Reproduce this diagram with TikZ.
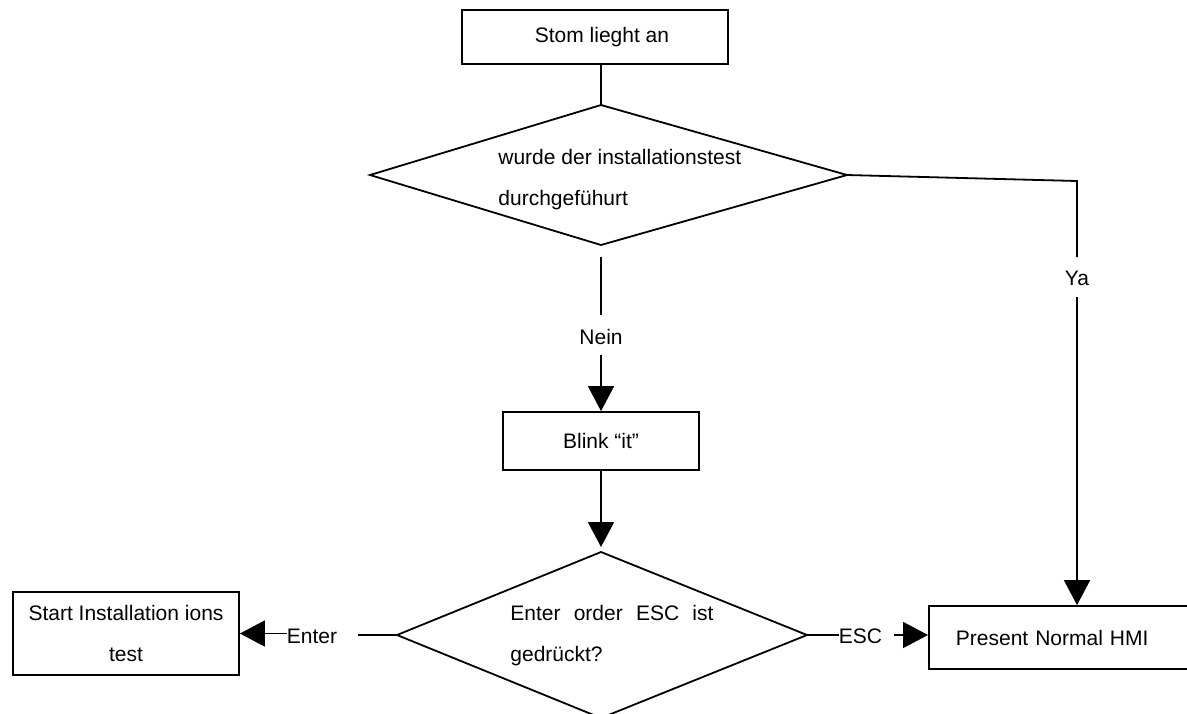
\documentclass[tikz,border=0pt]{standalone}
\usepackage{fontspec}
\setmainfont{Liberation Sans}
\usetikzlibrary{arrows.meta,calc}
\begin{document}
\begin{tikzpicture}[x=0.5pt,y=-0.5pt,
  every node/.style={font=\fontsize{10.5}{20.5}\selectfont},
  box/.style={draw, line width=0.9pt, inner sep=0pt},
  ln/.style={line width=0.9pt},
  arr/.style={line width=0.9pt, -{Triangle[length=12.5pt,width=13pt]}},
  lbl/.style={inner sep=0pt}]
\useasboundingbox (0,0) rectangle (1187,713);
\fill[white] (0,0) rectangle (1187,713);

% top box
\node[box, minimum width=133pt, minimum height=27pt] (stom) at (595,37) {\hspace*{7pt}Stom lieght an};

% first decision
\coordinate (d1n) at (601,105);
\coordinate (d1e) at (847,175);
\coordinate (d1s) at (601,245);
\coordinate (d1w) at (370,175);
\draw[ln] (d1n) -- (d1e) -- (d1s) -- (d1w) -- cycle;
\node[lbl, anchor=west, align=left] (q1) at (498,180) {wurde der installationstest\\durchgefühurt};
\draw[ln] (stom.south -| d1n) -- (d1n);

% blink box
\node[box, minimum width=98pt, minimum height=29pt] (blink) at (601,441) {Blink “it”};

% Nein connector
\coordinate (n1) at (601,257);
\coordinate (n2) at (601,315);
\node[lbl] (nein) at (601,337) {Nein};
\coordinate (n3) at (601,355);
\draw[ln] (n1) -- (n2);
\draw[arr] (n3) -- (blink.north);

% second decision
\coordinate (d2n) at (601,552);
\coordinate (d2e) at (807,635);
\coordinate (d2s) at (601,718);
\coordinate (d2w) at (397,635);
\draw[ln] (d2n) -- (d2e) -- (d2s) -- (d2w) -- cycle;
\node[lbl, anchor=west, align=left] (q2) at (510,636) {\makebox[101.5pt][s]{Enter order ESC ist}\\gedrückt?};
\draw[arr, shorten >=2.5pt] (blink.south) -- (d2n);

% start installation box
\node[box, minimum width=113pt, minimum height=41.5pt, align=center] (start) at (126,633.5) {Start Installation ions\\test};

% present normal HMI box
\node[box, anchor=west, inner xsep=13.5pt, inner ysep=0pt, text width=118pt, align=left, minimum height=31.5pt] (hmi) at (928,637.5) {\raisebox{-2pt}{Present Normal HMI}};

% Enter connector
\coordinate (e1) at (358,635);
\draw[ln] (d2w) -- (e1);
\node[lbl] (enter) at (312,636) {Enter};
\draw[arr] (enter.west |- start.east) -- (start.east);

% ESC connector
\node[lbl] (esc) at (860.5,636) {ESC};
\draw[ln] (d2e) -- (esc.west |- d2e);
\coordinate (e2) at (894,635);
\draw[arr] (e2) -- (e2 -| hmi.west);

% Ya connector
\coordinate (y1) at (1077,181);
\coordinate (y2) at (1077,257);
\node[lbl] (ya) at (1077,278) {Ya};
\coordinate (y3) at (1077,297);
\draw[ln] (d1e) -- (y1) -- (y2);
\draw[arr] (y3) -- (y3 |- hmi.north);
\end{tikzpicture}
\end{document}
